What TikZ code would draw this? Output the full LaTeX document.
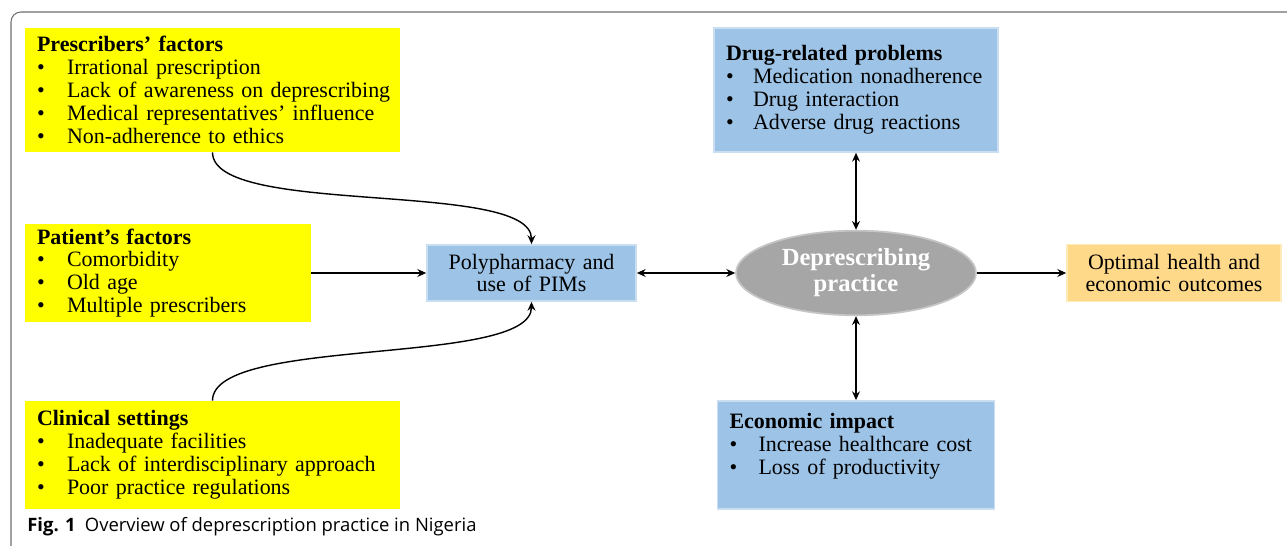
\documentclass[tikz,border=0pt]{standalone}
\usepackage{fontspec}
\setmainfont{Liberation Serif}
\newfontfamily\capfont{Open Sans}
\usetikzlibrary{shapes.geometric,arrows.meta}

\definecolor{factyellow}{HTML}{FFFF00}
\definecolor{probblue}{HTML}{9DC3E6}
\definecolor{probedge}{HTML}{C9DEF1}
\definecolor{outorange}{HTML}{FFD98A}
\definecolor{outedge}{HTML}{FFEBB8}
\definecolor{depgray}{HTML}{A6A6A6}
\definecolor{framegray}{HTML}{6E6E6E}

\newcommand{\itm}[2][0.6cm]{\\\makebox[#1][l]{\textbullet}\mbox{#2}}

\tikzset{
   box/.style={inner xsep=0.24cm, inner ysep=0pt, align=left,
      font=\fontsize{12.5pt}{13pt}\selectfont},
   factor/.style={box, fill=factyellow},
   problem/.style={box, fill=probblue, draw=probedge, line width=1pt},
   conn/.style={line width=0.8pt},
   >={Stealth[length=5pt,width=4.5pt]}
}

\begin{document}
\begin{tikzpicture}[x=0.02cm, y=0.02cm]
      \useasboundingbox (0,0) rectangle (1287,546);
      % frame of the figure
      \draw[framegray, line width=0.6pt, rounded corners=0.2cm]
         (11,-10) -- (11,534) -- (1300,534);

      % factors
      \node[factor, text width=7.02cm, minimum height=2.48cm] (presc) at (212.5,456)
         {\textbf{Prescribers’ factors}\itm{Irrational prescription}%
          \itm{Lack of awareness on deprescribing}%
          \itm{Medical representatives’ influence}\itm{Non-adherence to ethics}};
      \node[factor, text width=5.24cm, minimum height=1.96cm] (pat) at (168,273)
         {\textbf{Patient’s factors}\itm{Comorbidity}\itm{Old age}%
          \itm{Multiple prescribers}};
      \node[factor, text width=7.02cm, minimum height=2.16cm] (clin) at (212.5,91)
         {\textbf{Clinical settings}\itm{Inadequate facilities}%
          \itm{Lack of interdisciplinary approach}\itm{Poor practice regulations}};

      % centre
      \node[problem, align=center, text width=3.7cm, minimum height=1.12cm] (poly) at (531.5,273)
         {Polypharmacy and\\use of PIMs};
      \node[ellipse, fill=depgray, draw=gray!45, line width=1pt, minimum width=4.8cm,
         minimum height=1.68cm, align=center, text=white,
         font=\bfseries\fontsize{14pt}{14.7pt}\selectfont] (dep) at (856,273)
         {Deprescribing\\practice};

      % consequences
      \node[problem, text width=5.2cm, minimum height=2.48cm] (drug) at (856,456)
         {\textbf{Drug-related problems}\itm[0.54cm]{Medication nonadherence}%
          \itm[0.54cm]{Drug interaction}\itm[0.54cm]{Adverse drug reactions}};
      \node[problem, text width=5.06cm, minimum height=2.16cm] (econ) at (856,91)
         {\textbf{Economic impact}\itm[0.58cm]{Increase healthcare cost}%
          \itm[0.58cm]{Loss of productivity}\\~};
      \node[box, align=center, fill=outorange, draw=outedge, line width=1pt,
         text width=3.8cm, minimum height=1.14cm] (optim) at (1174,273)
         {Optimal health and\\economic outcomes};

      % connectors
      \draw[conn, ->] (presc.south) to[out=-90, in=90, looseness=0.5] (poly.north);
      \draw[conn, ->] (clin.north) to[out=90, in=-90, looseness=0.5] (poly.south);
      \foreach \u / \v / \tip in {pat/poly/->, poly/dep/<->, dep/drug/<->,
         dep/econ/<->, dep/optim/->} {
         \draw[conn, \tip] (\u) -- (\v);
      }

      \node[anchor=west, inner sep=0pt, font=\capfont\fontsize{10.5pt}{12pt}\selectfont] (cap) at (27,19)
         {\textbf{Fig. 1}\enspace Overview of deprescription practice in Nigeria};
   \end{tikzpicture}
\end{document}
